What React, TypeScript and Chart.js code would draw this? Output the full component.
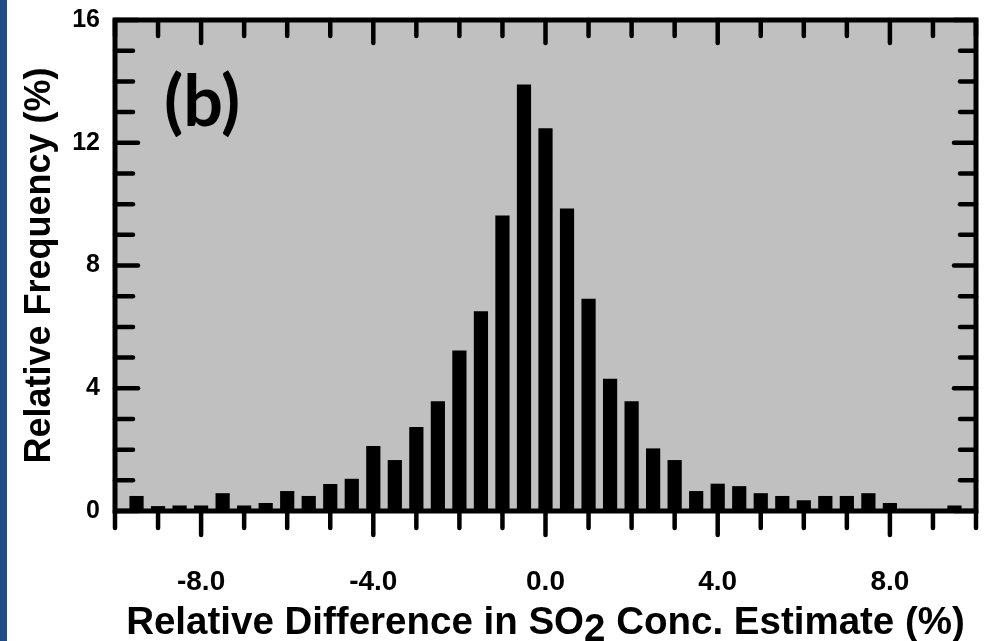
import React, { useEffect, useRef } from "react";
import { Chart, registerables } from "chart.js";

Chart.register(...registerables);

// Bin centres (%) of the relative-difference histogram
const binCenters = [
  -9.5, -9.0, -8.5, -8.0, -7.5, -7.0, -6.5, -6.0, -5.5, -5.0,
  -4.5, -4.0, -3.5, -3.0, -2.5, -2.0, -1.5, -1.0, -0.5, 0.0,
  0.5, 1.0, 1.5, 2.0, 2.5, 3.0, 3.5, 4.0, 4.5, 5.0,
  5.5, 6.0, 6.5, 7.0, 7.5, 8.0, 8.5, 9.0, 9.5,
];

// Relative frequency (%) per bin
const relFrequency = [
  0.49, 0.16, 0.18, 0.18, 0.58, 0.18, 0.26, 0.65, 0.49, 0.88,
  1.05, 2.12, 1.66, 2.74, 3.58, 5.23, 6.51, 9.63, 13.9, 12.47,
  9.86, 6.92, 4.31, 3.58, 2.04, 1.66, 0.65, 0.89, 0.81, 0.58,
  0.49, 0.35, 0.49, 0.49, 0.58, 0.26, 0, 0, 0.18,
];

const xMajorTicks = [-8, -4, 0, 4, 8];
const yMajorTicks = [0, 4, 8, 12, 16];

const xTitleParts = ["Relative Difference in SO", "2", " Conc. Estimate (%)"];
const yTitle = "Relative Frequency (%)";
const panelLabel = "(b)";

const FONT = '"Liberation Sans", Arial, Helvetica, sans-serif';

const framePlugin = {
  id: "frameTicks",
  beforeDraw(chart: any) {
    const { ctx, width, height, chartArea: a } = chart;
    ctx.save();
    ctx.fillStyle = "#ffffff";
    ctx.fillRect(0, 0, width, height);
    ctx.fillStyle = "#1f4b87";
    ctx.fillRect(0, 0, 7, height);
    ctx.fillStyle = "#c0c0c0";
    ctx.fillRect(a.left, a.top, a.right - a.left, a.bottom - a.top);
    ctx.restore();
  },
  afterDatasetsDraw(chart: any) {
    const { ctx, chartArea: a } = chart;
    const xs = chart.scales.x;
    const ys = chart.scales.y;
    ctx.save();
    ctx.strokeStyle = "#000";
    ctx.lineCap = "round";
    ctx.lineWidth = 4.5;
    const line = (x1: number, y1: number, x2: number, y2: number) => {
      ctx.beginPath();
      ctx.moveTo(x1, y1);
      ctx.lineTo(x2, y2);
      ctx.stroke();
    };
    xs.ticks.forEach((t: any) => {
      const px = xs.getPixelForValue(t.value);
      const major = xMajorTicks.includes(t.value);
      line(px, a.bottom, px, a.bottom + (major ? 24 : 17));
      line(px, a.top, px, a.top + (major ? 23 : 16));
    });
    ys.ticks.forEach((t: any) => {
      const py = ys.getPixelForValue(t.value);
      const major = yMajorTicks.includes(t.value);
      line(a.left, py, a.left + (major ? 23 : 18), py);
      line(a.right, py, a.right - (major ? 22 : 16), py);
    });
    // frame
    ctx.lineCap = "butt";
    ctx.lineJoin = "miter";
    ctx.lineWidth = 5;
    ctx.strokeRect(a.left, a.top, a.right - a.left, a.bottom - a.top);

    // panel label
    ctx.fillStyle = "#000";
    ctx.font = 'bold 70px Lato, "Open Sans", sans-serif';
    ctx.textAlign = "left";
    ctx.textBaseline = "alphabetic";
    ctx.fillText(panelLabel, 164, 126);

    // x-axis title with subscript
    ctx.font = `bold 38.5px ${FONT}`;
    const w0 = ctx.measureText(xTitleParts[0]).width;
    const w1 = ctx.measureText(xTitleParts[1]).width;
    const w2 = ctx.measureText(xTitleParts[2]).width;
    const total = w0 + w1 + w2;
    let x = (a.left + a.right) / 2 - total / 2;
    const base = 634;
    ctx.fillText(xTitleParts[0], x, base);
    x += w0;
    ctx.fillText(xTitleParts[1], x, base + 7);
    x += w1;
    ctx.fillText(xTitleParts[2], x, base);
    ctx.restore();
  },
};

export default function App() {
  const canvasRef = useRef<HTMLCanvasElement | null>(null);

  useEffect(() => {
    document.body.style.margin = "0";
    const canvas = canvasRef.current;
    if (!canvas) return;
    const chart = new Chart(canvas, {
      type: "bar",
      data: {
        datasets: [
          {
            label: "Relative frequency",
            data: binCenters.map((c, i) => ({ x: c, y: relFrequency[i] })),
            backgroundColor: "#000000",
            borderWidth: 0,
            barPercentage: 0.66,
            categoryPercentage: 1.0,
          },
        ],
      },
      options: {
        animation: false,
        responsive: false,
        devicePixelRatio: 1,
        layout: { padding: { top: 20, right: 8, left: 0, bottom: 0 } },
        plugins: {
          legend: { display: false },
          tooltip: { enabled: false },
        },
        scales: {
          x: {
            type: "linear",
            min: -10,
            max: 10,
            offset: false,
            grid: { display: false, drawTicks: false, tickLength: 0, offset: false },
            border: { display: false },
            ticks: {
              stepSize: 1,
              autoSkip: false,
              maxRotation: 0,
              minRotation: 0,
              padding: 54,
              color: "#000",
              font: { family: FONT, size: 28, weight: "bold" },
              callback: (v: any) => (xMajorTicks.includes(Number(v)) ? Number(v).toFixed(1) : ""),
            },
            afterFit: (s: any) => {
              s.height = 130;
              s.paddingLeft = 0;
              s.paddingRight = 0;
            },
          },
          y: {
            type: "linear",
            min: 0,
            max: 16,
            grid: { display: false, drawTicks: false, tickLength: 0 },
            border: { display: false },
            ticks: {
              stepSize: 1,
              autoSkip: false,
              padding: 15,
              color: "#000",
              font: { family: FONT, size: 25, weight: "bold" },
              callback: (v: any) => (yMajorTicks.includes(Number(v)) ? String(v) : ""),
            },
            title: {
              display: true,
              text: yTitle,
              color: "#000",
              font: { family: FONT, size: 36, weight: "bold" },
              padding: { top: 18, bottom: 0 },
            },
            afterFit: (s: any) => {
              s.width = 115;
              s.paddingTop = 0;
              s.paddingBottom = 0;
            },
          },
        },
      } as any,
      plugins: [framePlugin],
    });
    return () => chart.destroy();
  }, []);

  return (
    <div style={{ width: 984, height: 641, position: "relative" }}>
      <canvas ref={canvasRef} width={984} height={641} style={{ display: "block" }} />
    </div>
  );
}
